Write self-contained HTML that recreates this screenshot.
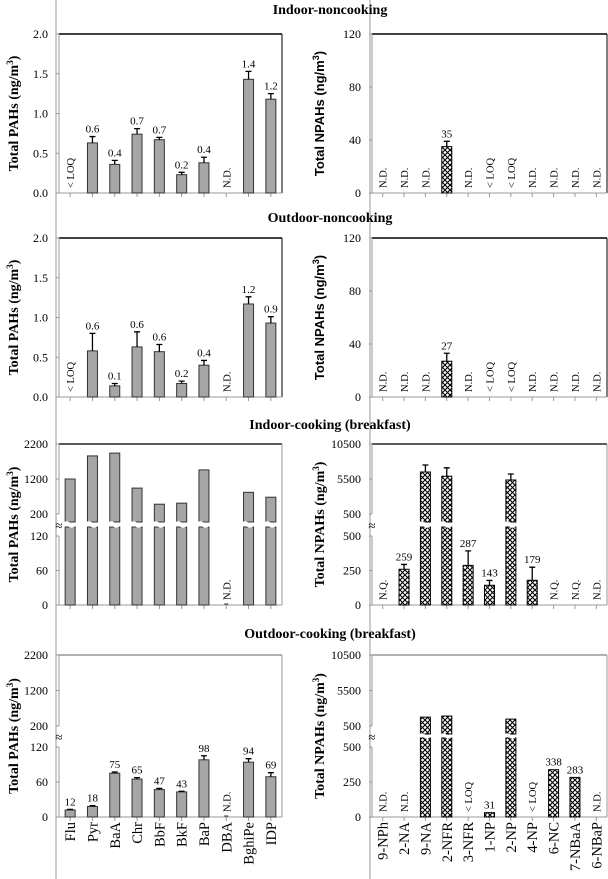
<!DOCTYPE html>
<html><head><meta charset="utf-8"><style>
body{margin:0;background:#fff}
svg{display:block}
text{font-family:"Liberation Serif",serif;fill:#000}
.t{font-weight:bold;font-size:14px}
.yt{font-weight:bold;font-size:14px}
.tk{font-size:12px}
.vl{font-size:11px}
.nt{font-size:10.5px}
.xl{font-size:14.5px}
</style></head><body>
<svg id="fig" width="608" height="879" viewBox="0 0 608 879">
<defs>
<pattern id="hatch" width="5" height="5" patternUnits="userSpaceOnUse">
<rect width="5" height="5" fill="#fff"/>
<path d="M0,0 L5,5 M5,0 L0,5" stroke="#000" stroke-width="1.1"/>
</pattern>
</defs>
<line x1="56" y1="0" x2="56" y2="879" stroke="#999" stroke-width="1"/>
<line x1="370" y1="0" x2="370" y2="879" stroke="#999" stroke-width="1"/>
<text class="t" x="330" y="14" text-anchor="middle">Indoor-noncooking</text>
<text class="t" x="330" y="222" text-anchor="middle">Outdoor-noncooking</text>
<text class="t" x="330" y="429" text-anchor="middle">Indoor-cooking (breakfast)</text>
<text class="t" x="330" y="638" text-anchor="middle">Outdoor-cooking (breakfast)</text>
</svg>
<script>
const pahCats=["Flu","Pyr","BaA","Chr","BbF","BkF","BaP","DBA","BghiPe","IDP"];
const npahCats=["9-NPh","2-NA","9-NA","2-NFR","3-NFR","1-NP","2-NP","4-NP","6-NC","7-NBaA","6-NBaP"];

const p1Vals=[null,0.63,0.36,0.74,0.67,0.23,0.38,null,1.43,1.18];
const p1Errs=[0,0.08,0.05,0.07,0.03,0.03,0.07,0,0.1,0.07];
const p1Labels=["","0.6","0.4","0.7","0.7","0.2","0.4","","1.4","1.2"];
const p1Notes=["< LOQ","","","","","","","N.D.","",""];
const p1Ticks=[0,0.5,1.0,1.5,2.0];

const n1Vals=[null,null,null,35,null,null,null,null,null,null,null];
const n1Errs=[0,0,0,4,0,0,0,0,0,0,0];
const n1Labels=["","","","35","","","","","","",""];
const n1Notes=["N.D.","N.D.","N.D.","","N.D.","< LOQ","< LOQ","N.D.","N.D.","N.D.","N.D."];
const n1Ticks=[0,40,80,120];

const p2Vals=[null,0.58,0.14,0.63,0.57,0.17,0.40,null,1.17,0.93];
const p2Errs=[0,0.22,0.03,0.19,0.09,0.03,0.06,0,0.09,0.08];
const p2Labels=["","0.6","0.1","0.6","0.6","0.2","0.4","","1.2","0.9"];
const p2Notes=["< LOQ","","","","","","","N.D.","",""];

const n2Vals=[null,null,null,27,null,null,null,null,null,null,null];
const n2Errs=[0,0,0,6,0,0,0,0,0,0,0];
const n2Labels=["","","","27","","","","","","",""];
const n2Notes=["N.D.","N.D.","N.D.","","N.D.","< LOQ","< LOQ","N.D.","N.D.","N.D.","N.D."];

const p3Vals=[1200,1860,1940,940,480,510,1460,null,820,680];
const p3Errs=[0,0,0,0,0,0,0,0,0,0];
const p3Labels=["","","","","","","","","",""];
const p3Notes=["","","","","","","","N.D.","",""];
const pahLowTicks=[0,60,120];
const pahUpTicks=[200,1200,2200];

const n3Vals=[null,259,6500,5900,287,143,5360,179,null,null,null];
const n3Errs=[0,35,1000,1200,105,35,850,95,0,0,0];
const n3Labels=["","259","","","287","143","","179","","",""];
const n3Notes=["N.Q.","","","","","","","","N.Q.","N.Q.","N.D."];
const npahLowTicks=[0,250,500];
const npahUpTicks=[500,5500,10500];

const p4Vals=[12,18,75,65,47,43,98,null,94,69];
const p4Errs=[1,1.5,2,2.5,2,1,7,0,6,7];
const p4Labels=["12","18","75","65","47","43","98","","94","69"];
const p4Notes=["","","","","","","","N.D.","",""];

const n4Vals=[null,null,1750,1900,null,31,1470,null,338,283,null];
const n4Errs=[0,0,0,0,0,0,0,0,0,0,0];
const n4Labels=["","","","","","31","","","338","283",""];
const n4Notes=["N.D.","N.D.","","","< LOQ","","","< LOQ","","","N.D."];

const svg=document.getElementById('fig');
const NS='http://www.w3.org/2000/svg';
function mk(tag,attrs,parent){const e=document.createElementNS(NS,tag);for(const k in attrs)e.setAttribute(k,attrs[k]);(parent||svg).appendChild(e);return e;}

function panel(cfg){
  const g=mk('g',{});
  
  
  const n=cfg.cats.length, cw=(cfg.x1-cfg.x0)/n, bw=10;
  const isBreak=!!cfg.lowTicks;
  let yOf,yLow,yUp;
  if(isBreak){
    const lowMax=cfg.lowTicks[cfg.lowTicks.length-1], upMin=cfg.upTicks[0], upMax=cfg.upTicks[cfg.upTicks.length-1];
    yLow=v=>cfg.bottom-(v/lowMax)*(cfg.bottom-cfg.lowTop);
    yUp=v=>cfg.upBottom-((v-upMin)/(upMax-upMin))*(cfg.upBottom-cfg.top);
    yOf=v=>v<=lowMax? yLow(v) : yUp(v);
  } else {
    const mx=cfg.ticks[cfg.ticks.length-1];
    yOf=v=>cfg.bottom-(v/mx)*(cfg.bottom-cfg.top);
  }
  const top=mk('line',{x1:cfg.x0,y1:cfg.top,x2:cfg.x1,y2:cfg.top,stroke:cfg.topColor,'stroke-width':1.5},g);
  
  
  const rt=mk('line',{x1:cfg.x1,y1:cfg.top,x2:cfg.x1,y2:cfg.bottom,stroke:cfg.topColor==='#000'&&!isBreak?'#000':'#999','stroke-width':1},g);
  
  
  const xa=mk('line',{x1:cfg.x0,y1:cfg.bottom,x2:cfg.x1,y2:cfg.bottom,stroke:'#999','stroke-width':1},g);
  
  
  for(let i=0;i<n;i++){
    const tx=cfg.x0+cw*(i+0.5);
    const t=mk('line',{x1:tx,y1:cfg.bottom,x2:tx,y2:cfg.bottom+4,stroke:'#999'},g);
    
    
  }
  const drawTick=(v,y,label)=>{
    const t=mk('text',{x:cfg.x0-11,y:y+4,'text-anchor':'end',class:'tk'},g);
    t.textContent=label;
    
    
    const tm=mk('line',{x1:cfg.x0-3,y1:y,x2:cfg.x0,y2:y,stroke:'#999'},g);
    
    
  };
  if(isBreak){
    const a1=mk('line',{x1:cfg.x0,y1:cfg.bottom,x2:cfg.x0,y2:cfg.lowTop,stroke:'#999'},g);
    
    
    const a2=mk('line',{x1:cfg.x0,y1:cfg.upBottom,x2:cfg.x0,y2:cfg.top,stroke:'#999'},g);
    
    
    const br=mk('text',{x:cfg.x0,y:(cfg.lowTop+cfg.upBottom)/2+5,'text-anchor':'middle','font-size':'13'},g);
    br.textContent='≈';
    
    
    cfg.lowTicks.forEach(v=>drawTick(v,yLow(v),v));
    cfg.upTicks.forEach(v=>drawTick(v,yUp(v),v));
  } else {
    const a=mk('line',{x1:cfg.x0,y1:cfg.bottom,x2:cfg.x0,y2:cfg.top,stroke:'#999'},g);
    
    
    cfg.ticks.forEach(v=>drawTick(v,yOf(v),cfg.fmt?v.toFixed(1):v));
  }
  const yt=mk('text',{x:0,y:0,'text-anchor':'middle',class:'yt',transform:`translate(${cfg.ytx},${(cfg.top+cfg.bottom)/2}) rotate(-90)`},g);
  if(cfg.sans) yt.setAttribute('style','font-family:"Liberation Sans",sans-serif;font-size:13px');
  yt.innerHTML=cfg.ytitle+' (ng/m<tspan baseline-shift="super" font-size="9">3</tspan>)';
  
  

  const fill=cfg.hatch?'url(#hatch)':'#a6a6a6';
  const stroke=cfg.hatch?'#000':'#333';
  cfg.vals.forEach((v,i)=>{
    const cx=cfg.x0+cw*(i+0.5);
    if(v===null||v===undefined){
      if(cfg.notes[i]){
        const nt=mk('text',{x:0,y:0,'text-anchor':'start',class:'nt',transform:`translate(${cx+4},${cfg.bottom-5}) rotate(-90)`},g);
        nt.textContent=cfg.notes[i];
        
        
        if(cfg.notes[i]==='N.D.'&&!cfg.hatch&&isBreak){
          const d=mk('line',{x1:cx-2,y1:cfg.bottom-1,x2:cx+2,y2:cfg.bottom-1,stroke:'#333'},g);
          
          
        }
      }
      return;
    }
    const lowMax=isBreak?cfg.lowTicks[cfg.lowTicks.length-1]:Infinity;
    let yTop=yOf(v);
    if(isBreak&&v>lowMax){
      const gapLo=cfg.lowTop-9, gapHi=cfg.upBottom+8;
      const r1=mk('rect',{x:cx-bw/2,y:gapLo,width:bw,height:cfg.bottom-gapLo,fill:fill,stroke:stroke,'stroke-width':1},g);
      
      
      const r2=mk('rect',{x:cx-bw/2,y:yTop,width:bw,height:gapHi-yTop,fill:fill,stroke:stroke,'stroke-width':1},g);
      
      
      const w=mk('path',{d:`M${cx-bw/2-1},${gapHi+1} q2.5,-2 5,0 t5,0 M${cx-bw/2-1},${gapLo-1} q2.5,-2 5,0 t5,0`,fill:'none',stroke:'#fff','stroke-width':1.5},g);
      
      
    } else {
      const r=mk('rect',{x:cx-bw/2,y:yTop,width:bw,height:cfg.bottom-yTop,fill:fill,stroke:stroke,'stroke-width':1},g);
      
      
    }
    let labTop=yTop;
    if(cfg.errs[i]>0){
      const ye=yOf(v+cfg.errs[i]);
      const e=mk('path',{d:`M${cx},${yTop} V${ye} M${cx-3},${ye} H${cx+3}`,stroke:'#000','stroke-width':1.3,fill:'none'},g);
      
      
      labTop=ye;
    }
    if(cfg.labels[i]){
      const l=mk('text',{x:cx,y:labTop-4,'text-anchor':'middle',class:'vl'},g);
      l.textContent=cfg.labels[i];
      
      
    }
  });
  if(cfg.xlabels){
    cfg.cats.forEach((c,i)=>{
      const cx=cfg.x0+cw*(i+0.5);
      const t=mk('text',{x:0,y:0,'text-anchor':'end',class:'xl',transform:`translate(${cx+5},${cfg.bottom+5}) rotate(-90)`},g);
      t.textContent=c;
      
      
    });
  }
}

const L={x0:59,x1:282,ytx:18,ytitle:'Total PAHs'};
const R={x0:372,x1:607,ytx:324,ytitle:'Total NPAHs',hatch:true};
panel({...L,name:'panel-indoor-noncooking-pah',cats:pahCats,top:34,bottom:193,ticks:p1Ticks,fmt:true,vals:p1Vals,errs:p1Errs,labels:p1Labels,notes:p1Notes,topColor:'#000'});
panel({...R,name:'panel-indoor-noncooking-npah',cats:npahCats,top:34,bottom:193,ticks:n1Ticks,vals:n1Vals,errs:n1Errs,labels:n1Labels,notes:n1Notes,topColor:'#000',sans:true});
panel({...L,name:'panel-outdoor-noncooking-pah',cats:pahCats,top:238,bottom:397,ticks:p1Ticks,fmt:true,vals:p2Vals,errs:p2Errs,labels:p2Labels,notes:p2Notes,topColor:'#000'});
panel({...R,name:'panel-outdoor-noncooking-npah',cats:npahCats,top:238,bottom:397,ticks:n1Ticks,vals:n2Vals,errs:n2Errs,labels:n2Labels,notes:n2Notes,topColor:'#000',sans:true});
panel({...L,name:'panel-indoor-cooking-pah',cats:pahCats,top:444,bottom:605,lowTop:536,upBottom:514,lowTicks:pahLowTicks,upTicks:pahUpTicks,vals:p3Vals,errs:p3Errs,labels:p3Labels,notes:p3Notes,topColor:'#222'});
panel({...R,name:'panel-indoor-cooking-npah',cats:npahCats,top:444,bottom:605,lowTop:536,upBottom:514,lowTicks:npahLowTicks,upTicks:npahUpTicks,vals:n3Vals,errs:n3Errs,labels:n3Labels,notes:n3Notes,topColor:'#222'});
panel({...L,name:'panel-outdoor-cooking-pah',cats:pahCats,top:655,bottom:817,lowTop:747,upBottom:726,lowTicks:pahLowTicks,upTicks:pahUpTicks,vals:p4Vals,errs:p4Errs,labels:p4Labels,notes:p4Notes,topColor:'#999',xlabels:true});
panel({...R,name:'panel-outdoor-cooking-npah',cats:npahCats,top:655,bottom:817,lowTop:747,upBottom:726,lowTicks:npahLowTicks,upTicks:npahUpTicks,vals:n4Vals,errs:n4Errs,labels:n4Labels,notes:n4Notes,topColor:'#999',xlabels:true});
</script>
</body></html>
